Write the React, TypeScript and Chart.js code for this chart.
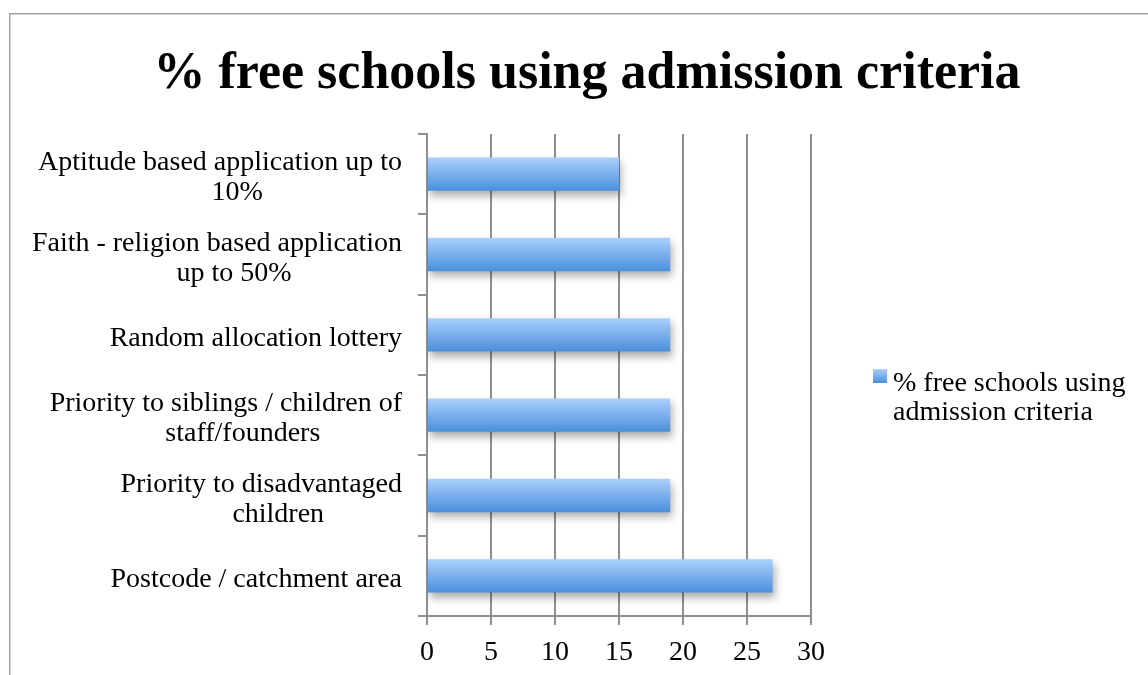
import React, { useEffect, useRef } from 'react';
import { Chart, registerables } from 'chart.js';

Chart.register(...registerables);

// ---------- data ----------
const chartTitle = '% free schools using admission criteria';
const seriesName = '% free schools using admission criteria';
const legendLines = ['% free schools using', 'admission criteria'];
const categories: string[][] = [
  ['Aptitude based application up to', '10%'],
  ['Faith - religion based application', 'up to 50%'],
  ['Random allocation lottery'],
  ['Priority to siblings / children of', 'staff/founders'],
  ['Priority to disadvantaged', 'children'],
  ['Postcode / catchment area'],
];
const values: number[] = [15, 19, 19, 19, 19, 27];
const xMin = 0;
const xMax = 30;
const xStep = 5;

// ---------- style ----------
const FONT = '"Liberation Serif", "Times New Roman", serif';
const LABEL_SIZE = 28;
const TITLE_SIZE = 52;
const GRID = '#8f8f8f';
const TICK_LEN = 9;
const LABEL_PAD = 16;
const LINE_H = 30;
const LINE_SHIFT = 17;
const BAR_PCT = 0.415;
const TOP_COLOR = '#abd0fc';
const BOTTOM_COLOR = '#4a8fdb';
const FALLBACK = '#6fa8ea';

function makeGradient(c: CanvasRenderingContext2D, y0: number, y1: number) {
  if (!isFinite(y0) || !isFinite(y1) || y0 === y1) return FALLBACK;
  const g = c.createLinearGradient(0, y0, 0, y1);
  g.addColorStop(0, TOP_COLOR);
  g.addColorStop(1, BOTTOM_COLOR);
  return g;
}

const framePlugin = {
  id: 'frame',
  beforeDraw(chart: any) {
    const c = chart.ctx as CanvasRenderingContext2D;
    c.save();
    c.strokeStyle = '#a3a3a3';
    c.lineWidth = 1.5;
    c.beginPath();
    c.moveTo(9.7, chart.height);
    c.lineTo(9.7, 13.7);
    c.lineTo(chart.width, 13.7);
    c.stroke();
    c.restore();
  },
};

const shadowPlugin = {
  id: 'barShadow',
  beforeDatasetsDraw(chart: any) {
    const c = chart.ctx as CanvasRenderingContext2D;
    c.save();
    c.shadowColor = 'rgba(0,0,0,0.32)';
    c.shadowBlur = 8;
    c.shadowOffsetX = 2;
    c.shadowOffsetY = 5;
  },
  afterDatasetsDraw(chart: any) {
    chart.ctx.restore();
  },
};

const textPlugin = {
  id: 'texts',
  afterDraw(chart: any) {
    const c = chart.ctx as CanvasRenderingContext2D;
    const ys = chart.scales.y;
    c.save();
    c.fillStyle = '#000';

    // title
    c.font = `bold ${TITLE_SIZE}px ${FONT}`;
    c.textAlign = 'center';
    c.textBaseline = 'alphabetic';
    c.fillText(chartTitle, 587, 88);

    // category labels
    c.font = `${LABEL_SIZE}px ${FONT}`;
    const rightX = ys.right - TICK_LEN - LABEL_PAD;
    categories.forEach((lines, i) => {
      const cy = ys.getPixelForValue(i);
      const widths = lines.map((l) => c.measureText(l).width);
      const maxW = Math.max(...widths);
      const first = cy + 11 - ((lines.length - 1) * LINE_H) / 2;
      lines.forEach((l, j) => {
        const y = first + j * LINE_H;
        if (widths[j] === maxW) {
          c.textAlign = 'right';
          c.fillText(l, rightX, y);
        } else {
          c.textAlign = 'center';
          c.fillText(l, rightX - maxW / 2 + LINE_SHIFT, y);
        }
      });
    });

    // legend
    const lx = 873;
    const ly = 369;
    c.fillStyle = makeGradient(c, ly, ly + 14);
    c.fillRect(lx, ly, 14, 14);
    c.fillStyle = '#000';
    c.textAlign = 'left';
    legendLines.forEach((l, j) => {
      c.fillText(l, 893, 391 + j * 29);
    });
    c.restore();
  },
};

export default function App() {
  const ref = useRef<HTMLCanvasElement | null>(null);

  useEffect(() => {
    if (!ref.current) return;
    const chart = new Chart(ref.current, {
      type: 'bar',
      data: {
        labels: categories.map((l) => l.join(' ')),
        datasets: [
          {
            label: seriesName,
            data: values,
            borderWidth: 0,
            barPercentage: BAR_PCT,
            categoryPercentage: 1,
            backgroundColor: (ctx: any) => {
              const ch = ctx.chart;
              const ys = ch.scales && ch.scales.y;
              if (!ys || ctx.dataIndex === undefined) return FALLBACK;
              const center = ys.getPixelForValue(ctx.dataIndex);
              const h = (ys.height / categories.length) * BAR_PCT;
              return makeGradient(ch.ctx, center - h / 2, center + h / 2);
            },
          },
        ],
      },
      options: {
        indexAxis: 'y',
        responsive: false,
        animation: false,
        devicePixelRatio: 1,
        layout: { padding: { left: 0, right: 337, top: 134, bottom: 0 } },
        plugins: {
          legend: { display: false },
          title: { display: false },
          tooltip: { enabled: false },
        },
        scales: {
          x: {
            type: 'linear',
            min: xMin,
            max: xMax,
            ticks: {
              stepSize: xStep,
              color: '#000',
              padding: 11,
              font: { family: FONT, size: LABEL_SIZE },
            },
            grid: { color: GRID, lineWidth: 2, tickLength: TICK_LEN, drawTicks: true },
            border: { color: GRID, width: 2 },
            afterFit: (s: any) => {
              s.height = 59;
            },
          },
          y: {
            type: 'category',
            ticks: {
              color: 'rgba(0,0,0,0)',
              font: { family: FONT, size: LABEL_SIZE },
            },
            grid: {
              drawOnChartArea: false,
              color: GRID,
              lineWidth: 2,
              tickLength: TICK_LEN,
              offset: true,
            },
            border: { color: GRID, width: 2 },
            afterFit: (s: any) => {
              s.width = 427;
            },
          },
        },
      } as any,
      plugins: [framePlugin, shadowPlugin, textPlugin],
    });
    return () => chart.destroy();
  }, []);

  return (
    <div style={{ position: 'absolute', left: 0, top: 0, width: 1148, height: 675, background: '#fff', overflow: 'hidden' }}>
      <canvas ref={ref} width={1148} height={675} style={{ display: 'block' }} />
    </div>
  );
}
